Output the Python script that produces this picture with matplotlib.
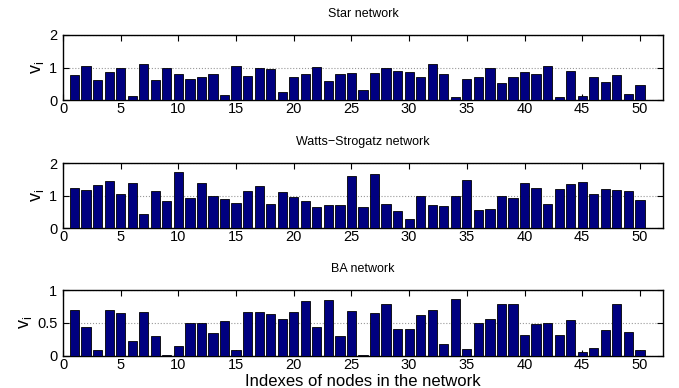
import numpy as np
import matplotlib
matplotlib.use('Agg')
import matplotlib.pyplot as plt

nodes = np.arange(1, 51)

star_vals = [0.76, 1.04, 0.61, 0.87, 1.00, 0.12, 1.10, 0.61, 0.97, 0.79,
             0.64, 0.70, 0.79, 0.15, 1.04, 0.73, 1.00, 0.94, 0.25, 0.70,
             0.79, 1.03, 0.58, 0.79, 0.83, 0.30, 0.83, 0.97, 0.89, 0.86,
             0.70, 1.10, 0.80, 0.09, 0.64, 0.70, 0.97, 0.52, 0.70, 0.86,
             0.80, 1.04, 0.09, 0.90, 0.12, 0.71, 0.55, 0.77, 0.18, 0.46]

ws_vals = [1.22, 1.16, 1.32, 1.44, 1.04, 1.39, 0.44, 1.13, 0.83, 1.71,
           0.93, 1.39, 0.99, 0.90, 0.76, 1.13, 1.29, 0.74, 1.11, 0.95,
           0.83, 0.64, 0.71, 0.72, 1.59, 0.64, 1.65, 0.74, 0.52, 0.28,
           1.00, 0.71, 0.68, 0.97, 1.47, 0.55, 0.60, 0.97, 0.92, 1.38,
           1.22, 0.75, 1.19, 1.34, 1.41, 1.05, 1.19, 1.18, 1.13, 0.85]

ba_vals = [0.69, 0.43, 0.09, 0.70, 0.65, 0.22, 0.67, 0.30, 0.015, 0.14,
           0.49, 0.50, 0.34, 0.52, 0.08, 0.67, 0.67, 0.64, 0.56, 0.67,
           0.83, 0.43, 0.85, 0.30, 0.68, 0.004, 0.65, 0.78, 0.40, 0.40,
           0.62, 0.69, 0.18, 0.86, 0.10, 0.50, 0.56, 0.78, 0.79, 0.32,
           0.48, 0.50, 0.31, 0.54, 0.05, 0.12, 0.39, 0.78, 0.36, 0.08]

panels = [
    ('Star network', star_vals, [0, 1, 2], ['0', '1', '2'], 2),
    ('Watts\u2212Strogatz network', ws_vals, [0, 1, 2], ['0', '1', '2'], 2),
    ('BA network', ba_vals, [0, 0.5, 1], ['0', '0.5', '1'], 1),
]

fig = plt.figure(figsize=(6.79, 3.88), dpi=100)
plt.rcParams['font.family'] = ['Liberation Sans', 'DejaVu Sans']

W, H = 679.0, 388.0
left, right = 63, 663
boxes = [(35, 100), (163, 228), (290, 355.5)]

for (title, vals, yt, ytl, ymax), (top, bot) in zip(panels, boxes):
    ax = fig.add_axes([left / W, 1 - bot / H, (right - left) / W, (bot - top) / H])
    ax.bar(nodes, vals, width=0.8, color='#000080', edgecolor='black', linewidth=0.6, zorder=3)
    ax.set_xlim(0, 52)
    ax.set_ylim(0, ymax)
    ax.set_xticks(range(0, 51, 5))
    ax.set_yticks(yt)
    ax.set_yticklabels(ytl)
    ax.yaxis.grid(True, linestyle=':', color='#999999', linewidth=0.8, zorder=0)
    ax.tick_params(direction='in', top=True, right=True, labelsize=10.5, length=4)
    ax.tick_params(axis='x', pad=1.5)
    ax.tick_params(axis='y', pad=4)
    ax.set_title(title, fontsize=9, pad=13)
    ax.set_ylabel('v$_\\mathregular{i}$', fontsize=13, labelpad=2)
    for s in ax.spines.values():
        s.set_linewidth(1.0)

# shared x label sits right under the bottom panel's tick labels
fig.text(0.5 * (left + right) / W, 1 - 386.5 / H, 'Indexes of nodes in the network',
         ha='center', va='baseline', fontsize=12)

fig.savefig('out.png', dpi=100)
